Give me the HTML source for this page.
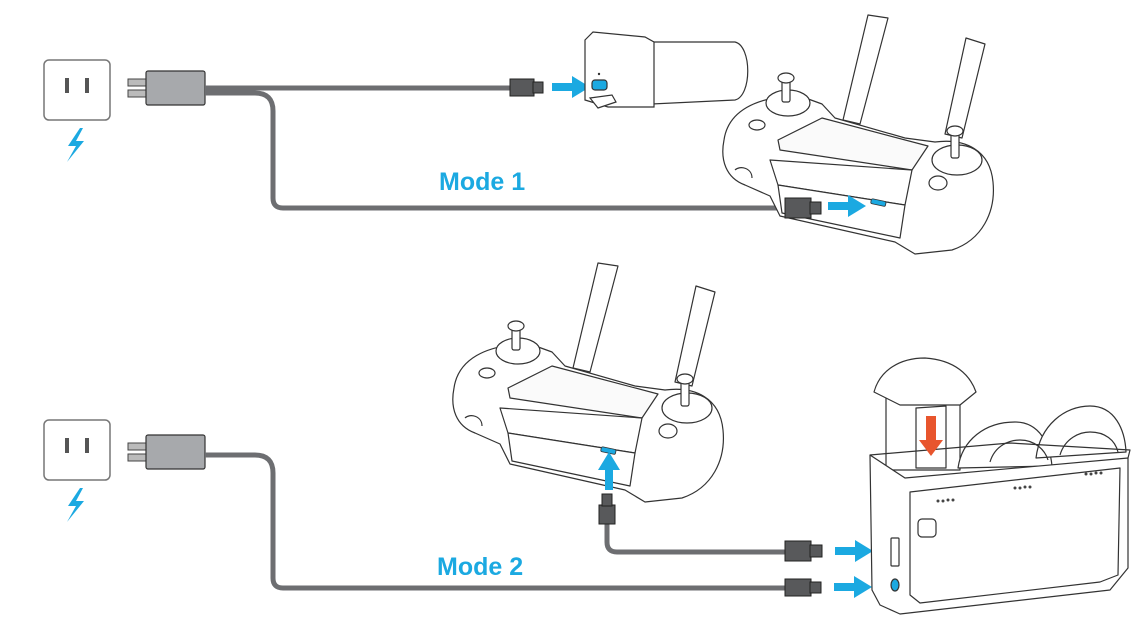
<!DOCTYPE html>
<html><head><meta charset="utf-8"><style>
html,body{margin:0;padding:0;background:#fff;width:1146px;height:628px;overflow:hidden}
svg{display:block}
text{font-family:"Liberation Sans",sans-serif;font-weight:bold;fill:#1ba9e1}
</style></head><body>
<svg width="1146" height="628" viewBox="0 0 1146 628" xmlns="http://www.w3.org/2000/svg">
<defs>
<g id="outlet">
<rect x="44" y="0" width="66" height="60" rx="5" fill="#fff" stroke="#777" stroke-width="1.5"/>
<rect x="65" y="18" width="4" height="15" fill="#555"/>
<rect x="85" y="18" width="4" height="15" fill="#555"/>
<path d="M80,68 L68,86 L76,86 L67,102 L84,81 L76,81 L83,68Z" fill="#1ba9e1"/>
</g>
<g id="charger">
<rect x="128" y="20" width="19" height="7" fill="#bbb" stroke="#444" stroke-width="1"/>
<rect x="128" y="31" width="19" height="7" fill="#bbb" stroke="#444" stroke-width="1"/>
<rect x="146" y="12" width="59" height="34" rx="2" fill="#a7a9ac" stroke="#333" stroke-width="1.2"/>
</g>
<g id="controller" fill="#fff" stroke="#333" stroke-width="1.2" stroke-linejoin="round">
<path d="M868,15 L888,18 L860,124 L843,120Z"/>
<path d="M966,38 L985,44 L962,138 L945,134Z"/>
<path d="M724,140 C728,112 755,96 800,96 L822,104 L835,118 L905,138 L935,142 C965,138 990,150 993,182 C996,212 982,240 952,250 L915,254 L895,242 L780,216 L770,196 L745,185 C726,178 720,160 724,140Z"/>
<path d="M778,140 L822,118 L928,146 L912,170 L780,150Z" fill="#fafafa"/>
<path d="M770,160 L912,170 L905,205 L778,185Z" fill="#fff"/>
<path d="M778,185 L905,205 L900,238 L782,213Z" fill="#fff"/>
<ellipse cx="788" cy="103" rx="22" ry="13"/>
<rect x="782" y="80" width="8" height="22" rx="2"/>
<ellipse cx="786" cy="78" rx="8" ry="5"/>
<ellipse cx="957" cy="160" rx="25" ry="15"/>
<rect x="951" y="134" width="8" height="24" rx="2"/>
<ellipse cx="955" cy="131" rx="8" ry="5"/>
<ellipse cx="938" cy="183" rx="9" ry="7"/>
<ellipse cx="757" cy="125" rx="8" ry="5"/>
<path d="M735,170 C740,165 752,168 752,178" fill="none"/>
<rect x="871" y="200" width="15" height="5" rx="1.5" fill="#1ba9e1" stroke="#333" stroke-width="0.8" transform="rotate(12 878 202)"/>
</g>
<g id="arrow"><path d="M0,-4 L20,-4 L20,-11 L38,0 L20,11 L20,4 L0,4Z" fill="#1ba9e1"/></g>
</defs>

<!-- Mode 1 -->
<use href="#outlet" y="60"/>
<use href="#charger" y="59"/>
<path d="M205,88 L512,88" stroke="#6d6e71" stroke-width="5" fill="none"/>
<path d="M205,93 L255,93 Q273,93 273,111 L273,198 Q273,208 283,208 L787,208" stroke="#6d6e71" stroke-width="5" fill="none"/>
<rect x="510" y="79" width="24" height="17" fill="#58595b" stroke="#222" stroke-width="1"/>
<rect x="533" y="82" width="10" height="11" fill="#58595b" stroke="#222" stroke-width="1"/>
<use href="#arrow" x="552" y="87"/>
<g fill="#fff" stroke="#333" stroke-width="1.2">
<path d="M652,42 L735,42 C752,46 752,96 735,100 L652,104Z"/>
<path d="M585,40 L593,32 L645,37 L654,42 L654,107 L608,107 L585,100Z"/>
<rect x="592" y="80" width="15" height="10" rx="3" fill="#1ba9e1"/>
<path d="M590,98 L612,95 L616,102 L598,108Z"/>
</g>
<circle cx="599" cy="74" r="1.2" fill="#333"/>
<use href="#controller"/>
<rect x="785" y="198" width="26" height="20" fill="#58595b" stroke="#222" stroke-width="1"/>
<rect x="810" y="202" width="11" height="12" fill="#58595b" stroke="#222" stroke-width="1"/>
<use href="#arrow" x="828" y="206"/>
<text x="439" y="190" font-size="25">Mode 1</text>

<!-- Mode 2 -->
<use href="#outlet" y="420"/>
<use href="#charger" y="423"/>
<path d="M205,455 L255,455 Q273,455 273,473 L273,578 Q273,588 283,588 L787,588" stroke="#6d6e71" stroke-width="5" fill="none"/>
<rect x="785" y="579" width="26" height="17" fill="#58595b" stroke="#222" stroke-width="1"/>
<rect x="810" y="582" width="11" height="11" fill="#58595b" stroke="#222" stroke-width="1"/>
<use href="#arrow" x="834" y="587"/>
<use href="#controller" transform="translate(-270,248)"/>
<path d="M607,523 L607,542 Q607,552 617,552 L787,552" stroke="#6d6e71" stroke-width="5" fill="none"/>
<rect x="599" y="505" width="16" height="19" fill="#58595b" stroke="#222" stroke-width="1"/>
<rect x="602" y="494" width="10" height="12" fill="#58595b" stroke="#222" stroke-width="1"/>
<use href="#arrow" transform="translate(609,490) rotate(-90)"/>
<rect x="785" y="541" width="26" height="20" fill="#58595b" stroke="#222" stroke-width="1"/>
<rect x="810" y="545" width="12" height="12" fill="#58595b" stroke="#222" stroke-width="1"/>
<use href="#arrow" x="835" y="551"/>
<text x="437" y="575" font-size="25">Mode 2</text>

<!-- charging hub -->
<g fill="#fff" stroke="#333" stroke-width="1.2" stroke-linejoin="round">
<path d="M886,395 L960,395 L960,470 L886,470Z"/>
<path d="M874,392 C880,370 900,358 925,358 C955,360 970,375 976,392 L960,405 L900,405 Z"/>
<path d="M916,408 L946,406 L946,468 L916,468Z"/>
<path d="M958,468 C962,440 985,422 1015,422 C1040,422 1050,445 1052,466Z"/>
<path d="M1036,458 C1040,425 1065,406 1090,406 C1115,406 1125,430 1126,452Z"/>
<path d="M990,462 C995,445 1010,440 1020,440 C1035,440 1045,450 1048,460" fill="none"/>
<path d="M1060,455 C1065,438 1080,432 1090,432 C1105,432 1115,440 1118,452" fill="none"/>
<path d="M870,455 L905,478 L1128,458 L1128,568 L1110,590 L900,614 L880,605 L872,590Z"/>
<path d="M870,455 L1010,443 L1130,450 L1128,458" fill="none"/>
<path d="M910,492 L1120,468 L1118,575 L1100,582 L920,603 L910,595Z"/>
<rect x="918" y="519" width="18" height="18" rx="4"/>
<rect x="891" y="538" width="8" height="28" rx="1"/>
<ellipse cx="895" cy="585" rx="4" ry="6" fill="#1ba9e1"/>
</g>
<path d="M926,416 L936,416 L936,440 L943,440 L931,456 L919,440 L926,440Z" fill="#e8552d"/>
<g fill="#444"><circle cx="938" cy="501" r="1.5"/><circle cx="943" cy="501" r="1.5"/><circle cx="948" cy="500" r="1.5"/><circle cx="953" cy="500" r="1.5"/>
<circle cx="1015" cy="488" r="1.5"/><circle cx="1020" cy="488" r="1.5"/><circle cx="1025" cy="487" r="1.5"/><circle cx="1030" cy="487" r="1.5"/>
<circle cx="1086" cy="474" r="1.5"/><circle cx="1091" cy="474" r="1.5"/><circle cx="1096" cy="473" r="1.5"/><circle cx="1101" cy="473" r="1.5"/></g>
</svg>
</body></html>
